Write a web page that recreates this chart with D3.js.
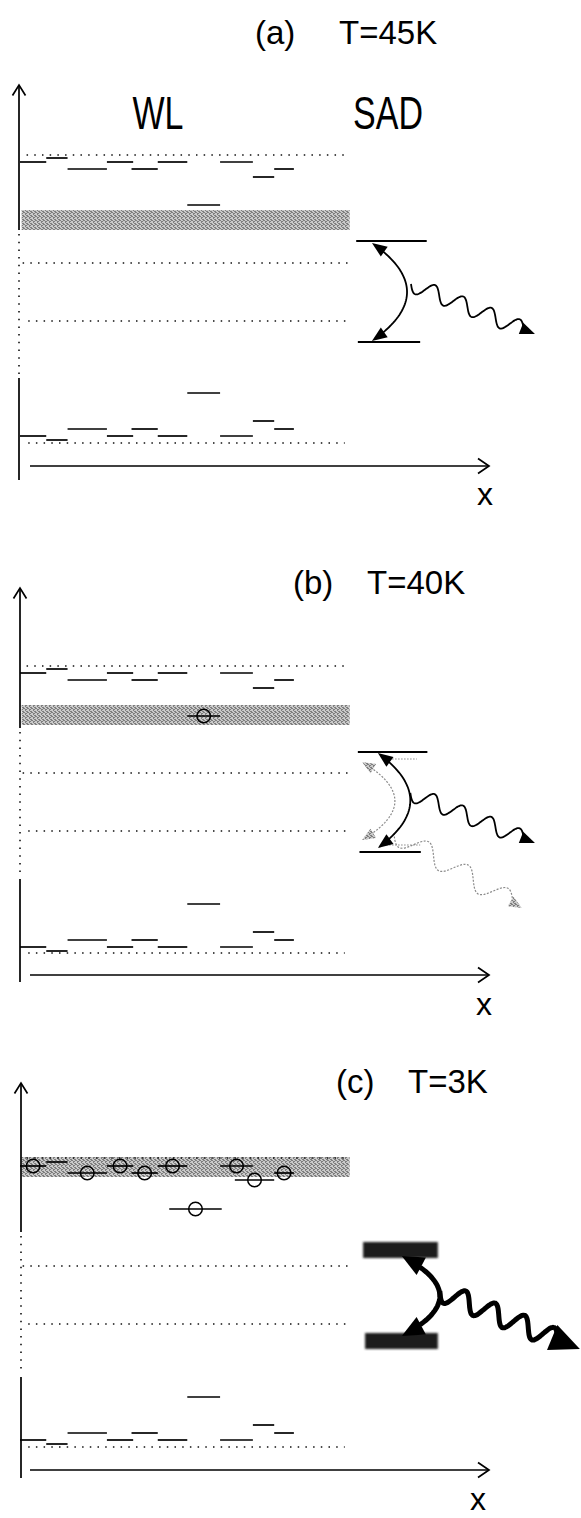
<!DOCTYPE html>
<html>
<head>
<meta charset="utf-8">
<script src="https://cdn.jsdelivr.net/npm/d3@7"></script>
<style>
  body { margin: 0; background: #fff; }
  svg { display: block; font-family: "Liberation Sans", Arial, sans-serif; }
</style>
</head>
<body>
<svg id="chart" width="581" height="1518"></svg>
<script>
// ---- data (energies in arbitrary units above each panel's x axis) ----
const panelTags = ["(a)", "(b)", "(c)"];
const temps = ["T=45K", "T=40K", "T=3K"];

const topDotted = [311, 309, 312];
const wlTop = [304, 302, 304];
const wlBottom = [30, 28, 30];
const bottomDotted = [23, 22, 23];
const midDotted = [[203, 145], [202, 144], [204, 146]];
const bandLow = [236, 250, 293];
const bandHigh = [256, 270, 313];
const sadUpper = [225, 223, 220];
const sadLower = [124, 123, 129];

// WL localized states: position along x (0-100) and offset from band edge
const segStart = [0, 8, 14.5, 26.5, 34, 42, 51, 61, 71, 77.5];
const segEnd = [8, 14.5, 26.5, 34.5, 42, 51, 61, 71, 77.5, 83.5];
const segDepth = [0, -4, 7, 0, 7, 0, 43, 0, 15, 7];
// upper states at 3K
const segStartC = [0, 8, 14.5, 26.5, 34, 42, 45.5, 61, 65.5, 77.5];
const segEndC = [8, 14.5, 26.5, 34.5, 42, 51, 61.5, 71, 77.5, 83.5];
const segDepthC = [0, -4, 7, 0, 7, 0, 43, 0, 14, 7];
const occupied = [[], [6], [0, 2, 3, 4, 5, 6, 7, 8, 9]];

// SAD levels (x range) and the radiative transition sketch
const sadUpX = [[102.5, 124], [103, 124.2], [104.6, 127.4]];
const sadLoX = [[103, 122], [103.5, 122.2], [105.2, 127.4]];
const arcX = [107.3, 109.1, 116.4];
const arcTop = [223, 222, 214];
const arcBottom = [125, 127, 134];
const arcBulge = [118, 119, 128];
const waveFrom = [[119.2, 182], [119, 182], [128, 179]];
const waveTo = [[157, 132], [157, 132], [170.7, 121]];
// thermally escaping transition at 40K (grey)
const greyArc = { x: 104.3, top: 213, bottom: 135, bulge: 114.3 };
const greyWave = { from: [114, 142], to: [153, 67] };
const greyLevels = [[110.7, 121, 216], [110.7, 122, 130]];

// ---- layout ----
const base = [466, 975, 1470];
const yAxisX = [19, 20, 21];
const axisTop = [381, 387, 387];
const solidBreak = [236, 247, 238];
const solidResume = [88, 96, 93];
const axisEnd = [-14, -7, -8];
const titleY = [44, 594, 1093];
const titleX = [[255, 339], [293, 367], [336, 408]];
const xLabelX = [485, 484, 478];
const xLabelDy = [39, 40, 40];

const svg = d3.select("#chart");
const xs = d3.scaleLinear().domain([0, 100]).range([20, 348]);

const defs = svg.append("defs");
const pat = defs.append("pattern").attr("id", "stip")
  .attr("width", 4).attr("height", 4).attr("patternUnits", "userSpaceOnUse");
pat.append("rect").attr("width", 4).attr("height", 4).attr("fill", "#c9c9c9");
[[0, 0], [2, 1], [1, 2], [3, 3], [3, 0], [1, 1], [2, 3]].forEach(p =>
  pat.append("rect").attr("x", p[0]).attr("y", p[1]).attr("width", 1).attr("height", 1).attr("fill", "#7e7e7e"));
defs.append("filter").attr("id", "fuzz").attr("x", "-10%").attr("y", "-30%")
  .attr("width", "120%").attr("height", "160%")
  .append("feGaussianBlur").attr("stdDeviation", 0.9);

const dots = "1.5 6.2";

function unit(dx, dy) { const l = Math.hypot(dx, dy); return [dx / l, dy / l]; }

function head(g, tip, dir, len, wid, fill) {
  const bx = tip[0] - dir[0] * len, by = tip[1] - dir[1] * len;
  const nx = -dir[1] * wid / 2, ny = dir[0] * wid / 2;
  g.append("path")
    .attr("d", `M${tip[0]},${tip[1]}L${bx + nx},${by + ny}L${bx - nx},${by - ny}Z`)
    .attr("fill", fill);
}

function arc(g, p0, p2, bulgeX, o) {
  const c = [2 * bulgeX - (p0[0] + p2[0]) / 2, (p0[1] + p2[1]) / 2];
  const n = 40, tr = o.trim;
  const pts = d3.range(n + 1).map(k => {
    const t = tr + (1 - 2 * tr) * k / n, u = 1 - t;
    return [u * u * p0[0] + 2 * u * t * c[0] + t * t * p2[0],
            u * u * p0[1] + 2 * u * t * c[1] + t * t * p2[1]];
  });
  g.append("path").attr("d", d3.line()(pts)).attr("fill", "none")
    .attr("stroke", o.color).attr("stroke-width", o.width)
    .attr("stroke-dasharray", o.dash || null);
  head(g, p0, unit(p0[0] - c[0], p0[1] - c[1]), o.len, o.wid, o.head);
  head(g, p2, unit(p2[0] - c[0], p2[1] - c[1]), o.len, o.wid, o.head);
}

function wave(g, s, tip, o) {
  const dir = unit(tip[0] - s[0], tip[1] - s[1]);
  const e = [tip[0] - dir[0] * o.len * 0.8, tip[1] - dir[1] * o.len * 0.8];
  const nrm = [-dir[1], dir[0]];
  const n = 160;
  const pts = d3.range(n + 1).map(k => {
    const t = k / n, a = o.amp * Math.sin(2 * Math.PI * o.cycles * t);
    return [s[0] + (e[0] - s[0]) * t + nrm[0] * a, s[1] + (e[1] - s[1]) * t + nrm[1] * a];
  });
  g.append("path").attr("d", d3.line().curve(d3.curveBasis)(pts)).attr("fill", "none")
    .attr("stroke", o.color).attr("stroke-width", o.width)
    .attr("stroke-dasharray", o.dash || null);
  head(g, tip, dir, o.len, o.wid, o.head);
}

panelTags.forEach((tag, i) => {
  const b = base[i];
  const y = d3.scaleLinear().domain([0, 400]).range([b, b - 400]);
  const g = svg.append("g").attr("id", "panel-" + i);
  const ax = yAxisX[i];

  // thermal distribution band
  g.append("rect")
    .attr("x", xs(0.5)).attr("width", xs(100.5) - xs(0.5))
    .attr("y", y(bandHigh[i])).attr("height", y(bandLow[i]) - y(bandHigh[i]))
    .attr("fill", "url(#stip)");

  // dotted reference lines
  const dl = [[topDotted[i], 2, 100.5], [midDotted[i][0], 0.8, 101], [midDotted[i][1], 2.5, 101],
              [bottomDotted[i], 2.5, 99]];
  g.selectAll("line.dot").data(dl).join("line").attr("class", "dot")
    .attr("x1", d => xs(d[1])).attr("x2", d => xs(d[2]))
    .attr("y1", d => y(d[0])).attr("y2", d => y(d[0]))
    .attr("stroke", "#111").attr("stroke-width", 1.5).attr("stroke-dasharray", dots);

  // WL localized levels
  const us = i === 2 ? segStartC : segStart, ue = i === 2 ? segEndC : segEnd,
        ud = i === 2 ? segDepthC : segDepth;
  const upper = us.map((s, k) => ({ x0: s, x1: ue[k], E: wlTop[i] - ud[k] }));
  const lower = segStart.map((s, k) => ({ x0: s, x1: segEnd[k], E: wlBottom[i] + segDepth[k] }));
  g.selectAll("line.lev").data(upper.concat(lower)).join("line").attr("class", "lev")
    .attr("x1", d => xs(d.x0)).attr("x2", d => xs(d.x1))
    .attr("y1", d => y(d.E)).attr("y2", d => y(d.E))
    .attr("stroke", "#000").attr("stroke-width", 1.7);

  g.selectAll("circle.el").data(occupied[i].map(k => upper[k])).join("circle").attr("class", "el")
    .attr("cx", d => xs((d.x0 + d.x1) / 2)).attr("cy", d => y(d.E)).attr("r", 6.8)
    .attr("fill", "none").attr("stroke", "#000").attr("stroke-width", 1.5);

  // axes
  const axis = g.append("g").attr("stroke", "#000").attr("stroke-width", 1.7).attr("fill", "none");
  axis.append("line").attr("x1", ax).attr("x2", ax).attr("y1", y(axisTop[i])).attr("y2", y(solidBreak[i]));
  axis.append("line").attr("x1", ax).attr("x2", ax).attr("y1", y(solidBreak[i]) + 4).attr("y2", y(solidResume[i]) - 3)
    .attr("stroke-width", 1.5).attr("stroke-dasharray", dots);
  axis.append("line").attr("x1", ax).attr("x2", ax).attr("y1", y(solidResume[i])).attr("y2", y(axisEnd[i]));
  axis.append("path").attr("d", `M${ax - 6.5},${y(axisTop[i]) + 10.5}L${ax},${y(axisTop[i])}L${ax + 6.5},${y(axisTop[i]) + 10.5}`);
  axis.append("line").attr("x1", 30).attr("x2", 489).attr("y1", b).attr("y2", b);
  axis.append("path").attr("d", `M478,${b - 7.5}L489,${b}L478,${b + 7.5}`);

  // texts
  g.append("text").attr("x", titleX[i][0]).attr("y", titleY[i]).attr("font-size", 33).text(tag);
  g.append("text").attr("x", titleX[i][1]).attr("y", titleY[i]).attr("font-size", 33).text(temps[i]);
  g.append("text").attr("x", xLabelX[i]).attr("y", b + xLabelDy[i]).attr("font-size", 32)
    .attr("text-anchor", "middle").text("x");

  // SAD levels
  if (i < 2) {
    g.append("line").attr("x1", xs(sadUpX[i][0])).attr("x2", xs(sadUpX[i][1]))
      .attr("y1", y(sadUpper[i])).attr("y2", y(sadUpper[i])).attr("stroke", "#000").attr("stroke-width", 2);
    g.append("line").attr("x1", xs(sadLoX[i][0])).attr("x2", xs(sadLoX[i][1]))
      .attr("y1", y(sadLower[i])).attr("y2", y(sadLower[i])).attr("stroke", "#000").attr("stroke-width", 2);
  } else {
    [[sadUpX[i], sadUpper[i]], [sadLoX[i], sadLower[i]]].forEach(d => {
      g.append("rect").attr("x", xs(d[0][0])).attr("width", xs(d[0][1]) - xs(d[0][0]))
        .attr("y", y(d[1] + 8)).attr("height", y(d[1] - 8) - y(d[1] + 8))
        .attr("fill", "#1e1e1e").attr("filter", "url(#fuzz)");
    });
  }

  if (i === 1) {
    greyLevels.forEach(d => {
      g.append("line").attr("x1", xs(d[0])).attr("x2", xs(d[1])).attr("y1", y(d[2])).attr("y2", y(d[2]))
        .attr("stroke", "#888").attr("stroke-width", 1).attr("stroke-dasharray", "1.5 1.5");
    });
    arc(g, [xs(greyArc.x), y(greyArc.top)], [xs(greyArc.x), y(greyArc.bottom)], xs(greyArc.bulge),
      { color: "#8a8a8a", width: 1.2, dash: "2 1.5", head: "url(#stip)", len: 13, wid: 11, trim: 0.07 });
    wave(g, [xs(greyWave.from[0]), y(greyWave.from[1])], [xs(greyWave.to[0]), y(greyWave.to[1])],
      { color: "#8a8a8a", width: 1.2, dash: "2 1.5", head: "url(#stip)", len: 13, wid: 11, amp: 10, cycles: 3 });
  }

  const thick = i === 2;
  arc(g, [xs(arcX[i]), y(arcTop[i])], [xs(arcX[i]), y(arcBottom[i])], xs(arcBulge[i]),
    thick ? { color: "#000", width: 5, head: "#000", len: 22, wid: 20, trim: 0.14 }
          : { color: "#000", width: 1.8, head: "#000", len: 15, wid: 12, trim: 0.08 });
  wave(g, [xs(waveFrom[i][0]), y(waveFrom[i][1])], [xs(waveTo[i][0]), y(waveTo[i][1])],
    thick ? { color: "#000", width: 5, head: "#000", len: 30, wid: 27, amp: 10, cycles: 4 }
          : { color: "#000", width: 1.8, head: "#000", len: 15, wid: 12, amp: 8, cycles: 4 });
});

// band labels in panel (a)
[["WL", 158], ["SAD", 388]].forEach(d => {
  svg.append("text").attr("transform", `translate(${d[1]},129) scale(1,1.35)`)
    .attr("text-anchor", "middle").attr("font-size", 34).text(d[0]);
});
</script>
</body>
</html>
